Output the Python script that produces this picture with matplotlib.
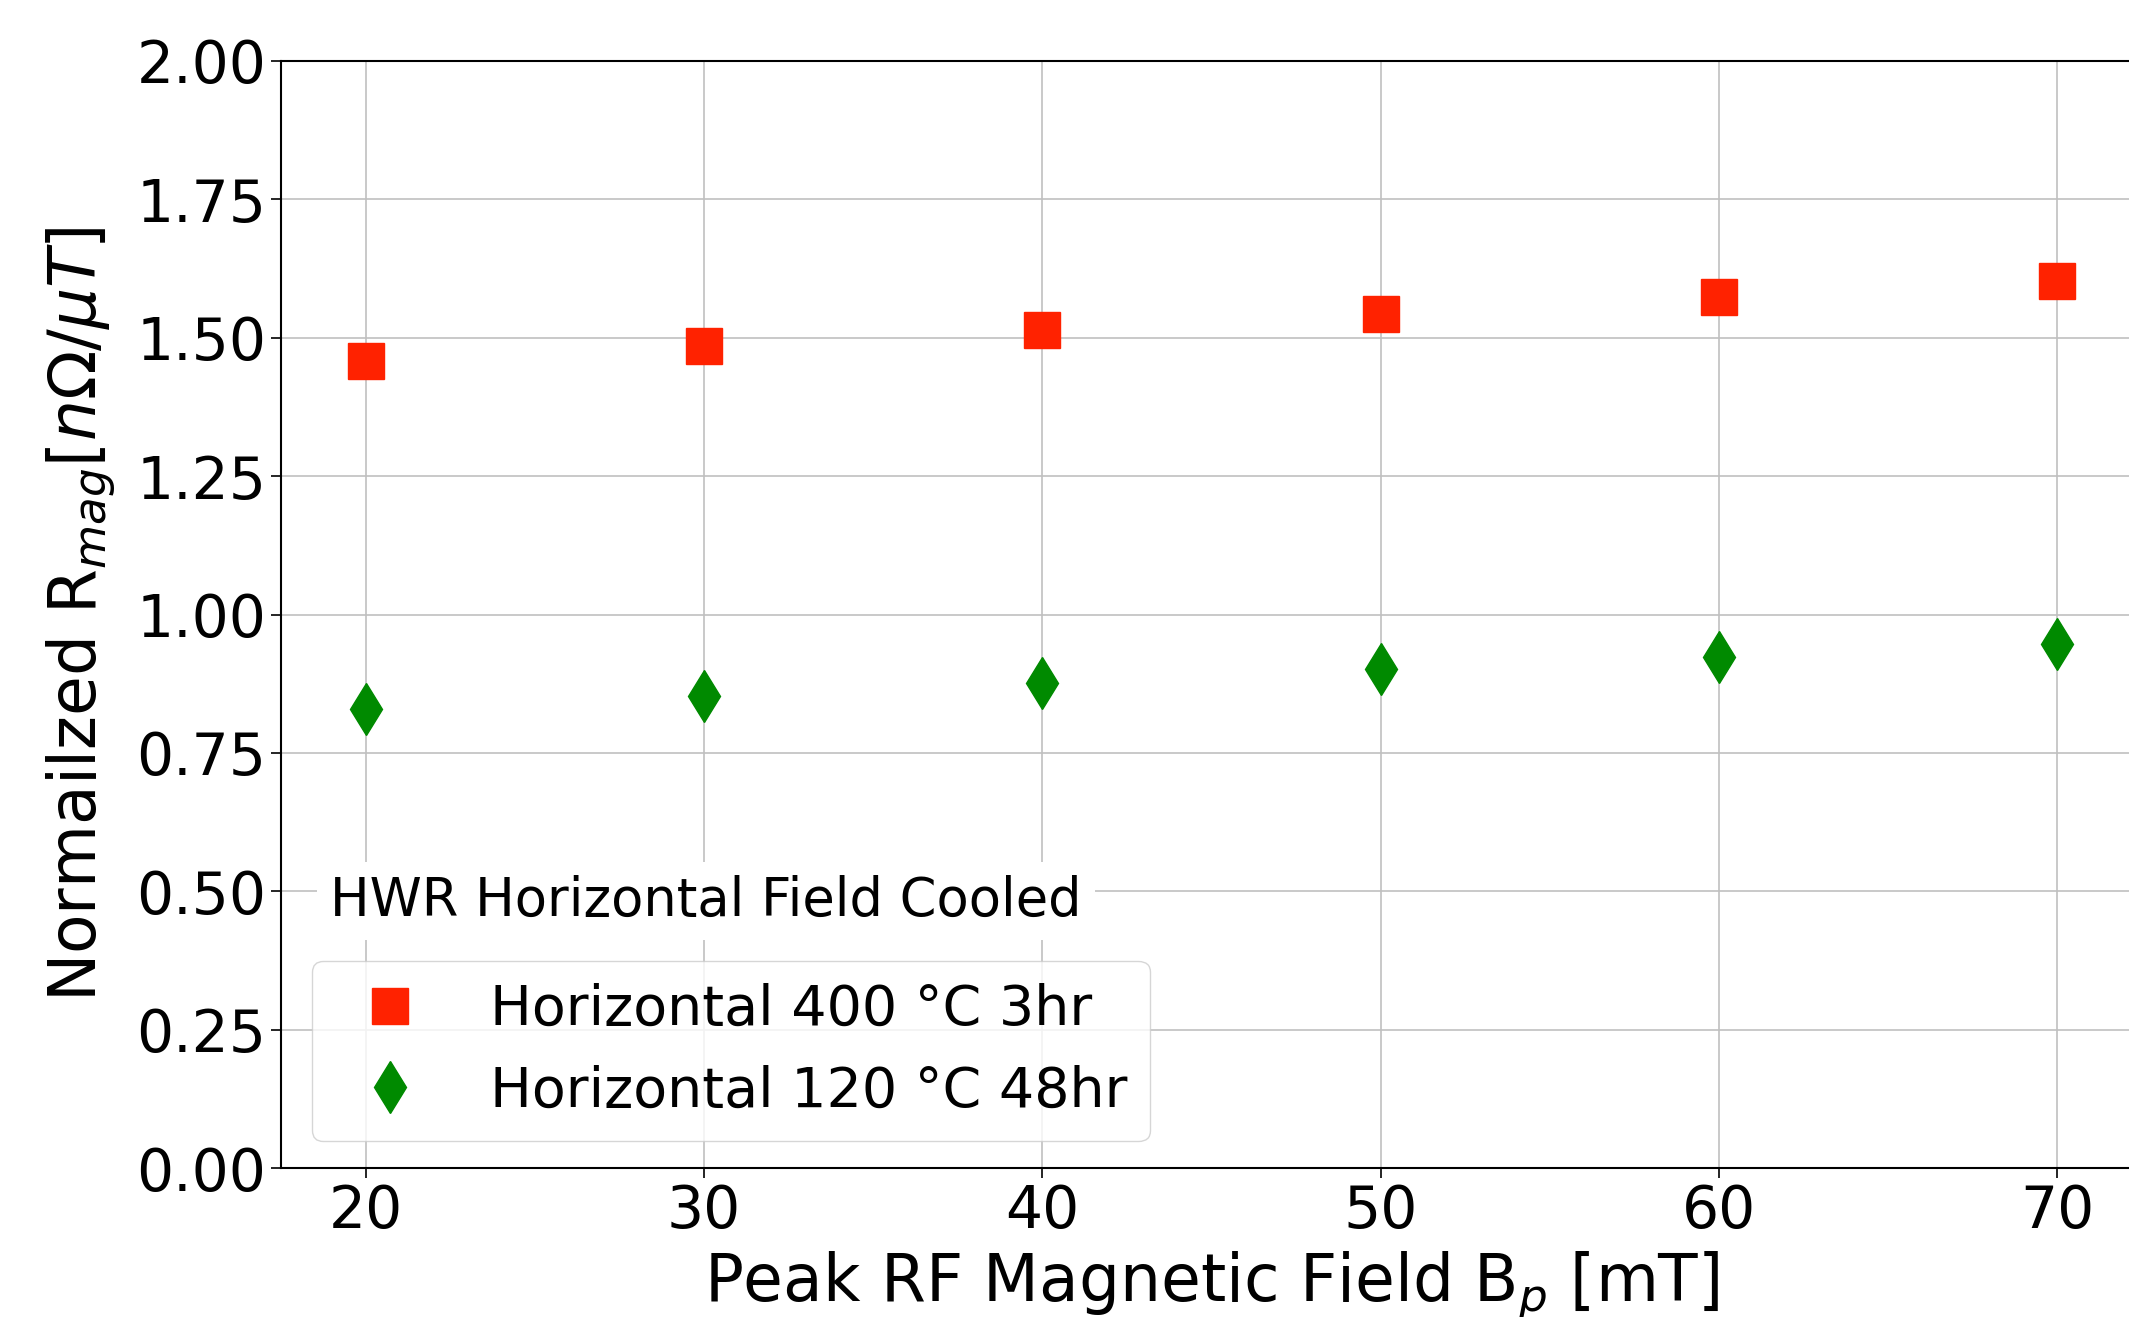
import matplotlib
matplotlib.use("Agg")
import matplotlib.pyplot as plt

field_mT = [20, 30, 40, 50, 60, 70]
r400_3hr = [1.458, 1.485, 1.514, 1.543, 1.573, 1.602]
r120_48hr = [0.829, 0.852, 0.876, 0.901, 0.923, 0.947]
labels = ["Horizontal 400 °C 3hr", "Horizontal 120 °C 48hr"]
legend_title = "HWR Horizontal Field Cooled"
yticks = [0.0, 0.25, 0.5, 0.75, 1.0, 1.25, 1.5, 1.75, 2.0]

plt.rcParams['font.family'] = ['DejaVu Sans']
plt.rcParams['mathtext.fontset'] = 'dejavusans'

W, H = 2129, 1317
fig = plt.figure(figsize=(W / 100, H / 100), dpi=100)
ax_left, ax_bottom, ax_w, ax_h = 0.132, 0.1131, 0.874, 0.8406
ax = fig.add_axes([ax_left, ax_bottom, ax_w, ax_h])

ax.plot(field_mT, r400_3hr, linestyle='none', marker='s', ms=26.5,
        color='#FF2200', label=labels[0], zorder=3)
ax.plot(field_mT, r120_48hr, linestyle='none', marker='d', ms=26.5,
        color='#008A00', label=labels[1], zorder=3)

ax.set_ylim(0, 2.0)
ax.set_xlim(17.5, 72.5)
ax.set_yticks(yticks)
ax.set_yticklabels([f"{v:.2f}" for v in yticks])
ax.set_xticks(field_mT)
ax.tick_params(axis='both', labelsize=42, length=7, width=1.2)
ax.grid(True, color='#c0c0c0', linewidth=1.2)
ax.set_axisbelow(True)
for s in ax.spines.values():
    s.set_linewidth(1.5)

ax.set_xlabel(r"Peak RF Magnetic Field B$_p$ [mT]", fontsize=46.5, labelpad=7)
ax.set_ylabel(r"Normailzed R$_{mag}$[$n\Omega/\mu T$]", fontsize=46.5, labelpad=14)

# legend frame lower-left corner in pixels (312, 1141 from top)
ax_px_w = ax_w * W
ax_px_h = ax_h * H
ax_px_left = ax_left * W
ax_px_bottom = H - ax_bottom * H
anchor = ((312 - ax_px_left) / ax_px_w, (ax_px_bottom - 1141) / ax_px_h)
leg = ax.legend(loc='lower left', bbox_to_anchor=anchor, borderaxespad=0,
                fontsize=40, frameon=True, fancybox=True, framealpha=0.8,
                handletextpad=0.8, borderpad=0.4, labelspacing=0.5)

ax.text((706 - ax_px_left) / ax_px_w, (ax_px_bottom - 901) / ax_px_h, legend_title,
        transform=ax.transAxes, fontsize=38, ha='center', va='center', zorder=5,
        bbox=dict(boxstyle='square,pad=0.25', facecolor='white', edgecolor='none'))

fig.savefig("out.png", dpi=100)
